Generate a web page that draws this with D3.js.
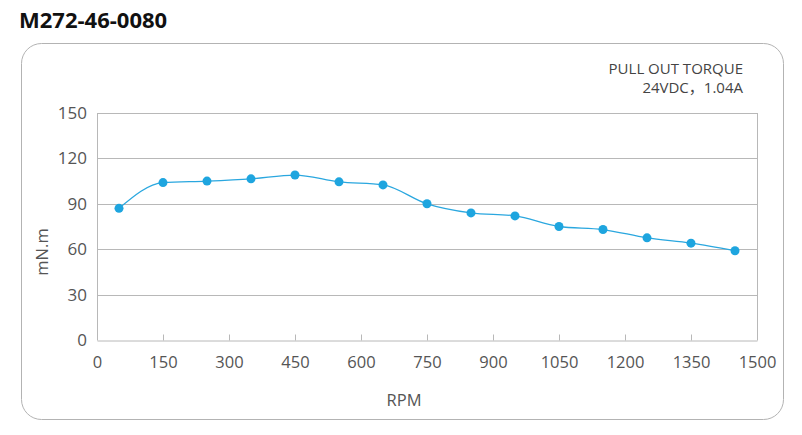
<!DOCTYPE html>
<html>
<head>
<meta charset="utf-8">
<script src="https://cdn.jsdelivr.net/npm/d3@7"></script>
<style>
  body { margin: 0; background: #fff; }
  svg { display: block; font-family: "Open Sans", "Noto Sans", sans-serif; }
</style>
</head>
<body>
<svg id="chart" width="802" height="435"></svg>
<script>
const rpm = [50, 150, 250, 350, 450, 550, 650, 750, 850, 950, 1050, 1150, 1250, 1350, 1450]
const torque = [87, 104, 105, 106.5, 109, 104.5, 102.5, 90, 84, 82, 75, 73, 67.5, 64, 59]
const xTicks = [0, 150, 300, 450, 600, 750, 900, 1050, 1200, 1350, 1500]
const yTicks = [0, 30, 60, 90, 120, 150]

const svg = d3.select("svg#chart")
const plotL = 97, plotR = 757, plotT = 113, plotB = 340

const x = d3.scaleLinear().domain([0, 1500]).range([plotL, plotR])
const y = d3.scaleLinear().domain([0, 150]).range([plotB, plotT])

// title
svg.append("text")
    .attr("x", 19).attr("y", 28)
    .attr("font-size", 22).attr("font-weight", 700)
    .attr("fill", "#111")
    .text("M272-46-0080")

// rounded frame
svg.append("rect")
    .attr("x", 21.5).attr("y", 43.5)
    .attr("width", 762).attr("height", 376)
    .attr("rx", 20).attr("ry", 20)
    .attr("fill", "none").attr("stroke", "#b3b3b3")

// grid lines
svg.append("g")
    .attr("stroke", "#b8b8b8")
  .selectAll("line")
  .data(yTicks.filter(d => d > 0))
  .join("line")
    .attr("x1", plotL).attr("x2", plotR)
    .attr("y1", d => Math.round(y(d)) + 0.5)
    .attr("y2", d => Math.round(y(d)) + 0.5)

// frame sides
svg.append("line")
    .attr("x1", plotL + 0.5).attr("x2", plotL + 0.5)
    .attr("y1", plotT).attr("y2", plotB)
    .attr("stroke", "#b8b8b8")
svg.append("line")
    .attr("x1", plotR + 0.5).attr("x2", plotR + 0.5)
    .attr("y1", plotT).attr("y2", plotB)
    .attr("stroke", "#b8b8b8")

// x axis
const xAxis = svg.append("g")
    .attr("transform", `translate(0,${plotB + 0.5})`)
    .call(d3.axisBottom(x).tickValues(xTicks).tickFormat(d3.format("d"))
      .tickSize(-6).tickSizeOuter(0).tickPadding(16))
xAxis.select(".domain").attr("stroke", "#b8b8b8")
xAxis.selectAll(".tick line").attr("stroke", "#b8b8b8")
xAxis.selectAll("text")
    .attr("font-size", 16.5).attr("fill", "#555").attr("font-family", "Open Sans")

// y axis labels
const yAxis = svg.append("g")
    .attr("transform", `translate(${plotL},0)`)
    .call(d3.axisLeft(y).tickValues(yTicks).tickSize(0).tickPadding(10))
yAxis.select(".domain").remove()
yAxis.selectAll("text")
    .attr("font-size", 17).attr("fill", "#555").attr("font-family", "Open Sans")

// axis titles
svg.append("text")
    .attr("x", 404).attr("y", 406)
    .attr("text-anchor", "middle")
    .attr("font-size", 16.5).attr("fill", "#555")
    .text("RPM")
svg.append("text")
    .attr("transform", "translate(48,252) rotate(-90)")
    .attr("text-anchor", "middle")
    .attr("font-size", 16.5).attr("fill", "#555")
    .text("mN.m")

// legend note
const note = svg.append("g")
    .attr("text-anchor", "end")
    .attr("font-size", 15).attr("fill", "#444")
note.append("text").attr("x", 743).attr("y", 74).text("PULL OUT TORQUE")
const l2 = note.append("text").attr("x", 743).attr("y", 93)
l2.append("tspan").text("24VDC")
l2.append("tspan").attr("font-family", "Noto Sans CJK SC").text("，")
l2.append("tspan").text("1.04A")

// curve
const pts = rpm.map((r, i) => [r, torque[i]])
svg.append("path")
    .datum(pts)
    .attr("fill", "none")
    .attr("stroke", "#2aa7df")
    .attr("stroke-width", 1.3)
    .attr("d", d3.line().x(d => x(d[0])).y(d => y(d[1])).curve(d3.curveMonotoneX))

svg.append("g")
    .attr("fill", "#1ea5df")
  .selectAll("circle")
  .data(pts)
  .join("circle")
    .attr("cx", d => x(d[0]))
    .attr("cy", d => y(d[1]))
    .attr("r", 4.5)
</script>
</body>
</html>
